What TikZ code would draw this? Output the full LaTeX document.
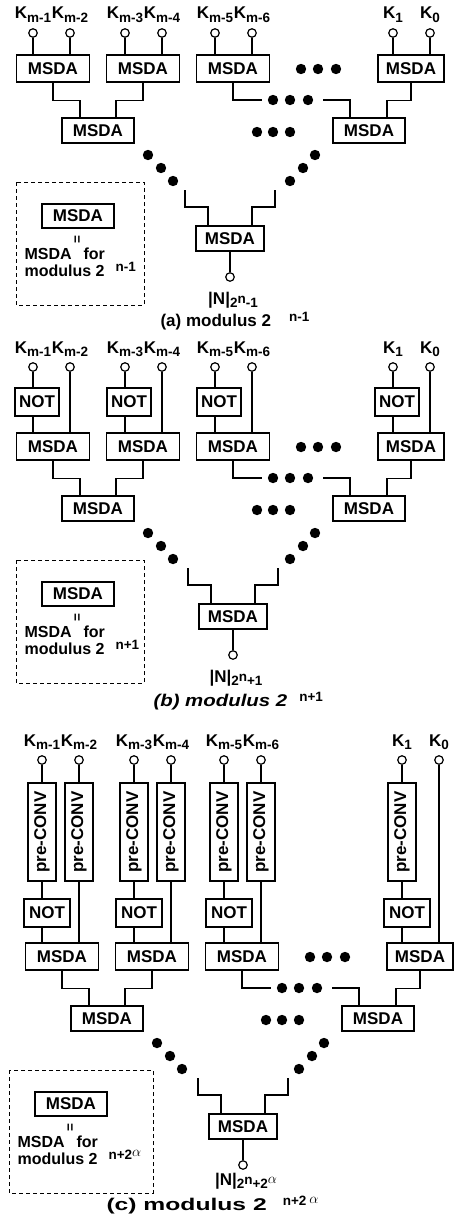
\documentclass[tikz,border=0pt]{standalone}
\usepackage{fontspec}
\setmainfont{Liberation Sans}
\usetikzlibrary{positioning}

\newcommand{\boxf}{\fontsize{17}{19}\selectfont\bfseries}
\newcommand{\subf}{\fontsize{13.5}{15}\selectfont\bfseries}
\newcommand{\legf}{\fontsize{16}{18}\selectfont\bfseries}
\newcommand{\lowsub}[1]{\raisebox{-3.5pt}{\subf #1}}
\newcommand{\highsup}[1]{\raisebox{5pt}{\subf #1}}
\newcommand{\kin}[1]{K\lowsub{#1}}

\tikzset{
  wire/.style={line width=1.2pt},
  msda/.style={draw, line width=1.3pt, fill=white, inner sep=0pt,
    minimum width=73, minimum height=27, font=\boxf},
  notbox/.style={msda, minimum width=44, minimum height=28},
  convbox/.style={msda, rotate=90, minimum width=98, minimum height=28},
  port/.style={circle, draw, line width=1.2pt, fill=white, inner sep=0pt, minimum size=8.5},
  legbox/.style={draw, line width=0.9pt, dash pattern=on 4pt off 3pt},
}

\begin{document}
\begin{tikzpicture}[x=1pt, y=-1pt]
  \useasboundingbox (0,0) rectangle (453,1218);

  % common MSDA tree, legend and output of the three panels
  \foreach \p/\dx/\dy/\bx/\ny/\lg/\ma/\mb in {a/0/0/230/304/0/-1/{}, b/0/378/233/304/0/+1/{},
      c/9/888/234/297/-16/+2/{$\alpha$}} {
    \begin{scope}[shift={(\dx,\dy)}]
      \node[msda] (\p1) at (53,68.5) {MSDA};
      \node[msda] (\p2) at (143,68.5) {MSDA};
      \node[msda] (\p3) at (233,68.5) {MSDA};
      \node[msda, minimum width=66] (\p4) at (411,68.5) {MSDA};
      \node[msda, minimum width=72, minimum height=25] (\p5) at (98,130.5) {MSDA};
      \node[msda, minimum width=72, minimum height=25] (\p6) at (369,130.5) {MSDA};
      \node[msda, minimum width=68, minimum height=25] (\p7) at (\bx,238.5) {MSDA};
      \node[port] (\p o) at (\bx,277) {};
      \coordinate (\p5a) at (80,118);
      \coordinate (\p5b) at (116,118);
      \coordinate (\p6a) at (350,118);
      \coordinate (\p6b) at (387,118);
      \coordinate (\p7a) at ({\bx-22},226);
      \coordinate (\p7b) at ({\bx+22},226);
      \coordinate (\p m) at (262,100);
      \coordinate (\p n) at (323,100);
      \coordinate (\p l) at ({\bx-45},190);
      \coordinate (\p r) at ({\bx+45},190);
      \draw[wire] (\p1.south) -- ++(0,18) -| (\p5a);
      \draw[wire] (\p2.south) -- ++(0,18) -| (\p5b);
      \draw[wire] (\p3.south) |- (\p m);
      \draw[wire] (\p n) -| (\p6a);
      \draw[wire] (\p4.south) -- ++(0,18) -| (\p6b);
      \draw[wire] (\p l) -- ++(0,17) -| (\p7a);
      \draw[wire] (\p r) -- ++(0,17) -| (\p7b);
      \draw[wire] (\p7) -- (\p o);
      % dots
      \foreach \x/\y in {301/69, 318/69, 336/69, 273/100, 290/100, 308/100,
          257/132, 273/132, 290/132, 148/155, 161/168, 173/181, 315/155, 303/168, 290/181}
        \fill (\x,\y) circle (5.2);
      \node[anchor=base, font=\boxf] (\p lab) at ({\bx+3},\ny)
        {|N|\lowsub{2\raisebox{4pt}{n}\ma\raisebox{5pt}{\mb}}};
      % legend
      \draw[legbox] (16+\lg,182) rectangle (144,305);
      \node[msda, minimum width=72, minimum height=24] (\p k) at (78+\lg,216) {MSDA};
      \node[rotate=90, font=\subf] (\p q) at (78+\lg,240) {=};
      \node[anchor=base west, font=\legf] (\p t) at (21+\lg,259) {MSDA\hspace{12pt}for};
      \node[anchor=base west, font=\legf] (\p u) at (21+\lg,276)
        {modulus 2\hspace{11pt}\highsup{n\ma\raisebox{3pt}{\mb}}};
    \end{scope}
  }

  % (a) inputs
  \foreach \x/\b/\k [count=\i] in {33/a1/m-1, 70/a1/m-2, 125/a2/m-3, 162/a2/m-4,
      215/a3/m-5, 252/a3/m-6, 393/a4/1, 430/a4/0} {
    \node[port] (pa\i) at (\x,33) {};
    \node[anchor=base, font=\boxf] (ka\i) at (\x,19) {\kin{\k}};
    \draw[wire] (pa\i) -- (pa\i |- \b.north);
  }

  % (b) inputs
  \foreach \x/\b/\k [count=\i] in {33/b1/m-1, 70/b1/m-2, 125/b2/m-3, 162/b2/m-4,
      215/b3/m-5, 252/b3/m-6, 393/b4/1, 430/b4/0} {
    \node[port] (pb\i) at (\x,367) {};
    \node[anchor=base, font=\boxf] (kb\i) at (\x,353) {\kin{\k}};
    \ifodd\i
      \node[notbox] (nb\i) at (\x+4,402) {NOT};
      \draw[wire] (pb\i) -- (pb\i |- nb\i.north);
      \draw[wire] (pb\i |- nb\i.south) -- (pb\i |- \b.north);
    \else
      \draw[wire] (pb\i) -- (pb\i |- \b.north);
    \fi
  }

  % (c) inputs
  \foreach \x/\b/\k [count=\i] in {42/c1/m-1, 79/c1/m-2, 134/c2/m-3, 171/c2/m-4,
      224/c3/m-5, 261/c3/m-6, 402/c4/1, 439/c4/0} {
    \node[port] (pc\i) at (\x,760) {};
    \node[anchor=base, font=\boxf] (kc\i) at (\x,746) {\kin{\k}};
    \ifnum\i=8
      \draw[wire] (pc\i) -- (pc\i |- \b.north);
    \else
      \node[convbox] (cv\i) at (\x,832) {pre-CONV};
      \draw[wire] (pc\i) -- (cv\i);
      \ifodd\i
        \node[notbox, minimum width=46] (nc\i) at (\x+5,913) {NOT};
        \draw[wire] (cv\i) -- (pc\i |- nc\i.north);
        \draw[wire] (pc\i |- nc\i.south) -- (pc\i |- \b.north);
      \else
        \draw[wire] (cv\i) -- (pc\i |- \b.north);
      \fi
    \fi
  }

  % captions
  \node[anchor=base west, font=\boxf] (capa) at (157,326) {(a) modulus 2\hspace{18pt}\highsup{n-1}};
  \node[anchor=base west, font=\boxf] (capb) at (150,706)
    {\scalebox{1.2}[1]{\itshape (b) modulus 2}\hspace{12pt}\highsup{n+1}};
  \node[anchor=base west, font=\boxf] (capc) at (103,1210)
    {\scalebox{1.45}[1]{(c) modulus 2}\hspace{16pt}\highsup{n+2\hspace{3pt}\raisebox{2pt}{$\alpha$}}};
\end{tikzpicture}
\end{document}
